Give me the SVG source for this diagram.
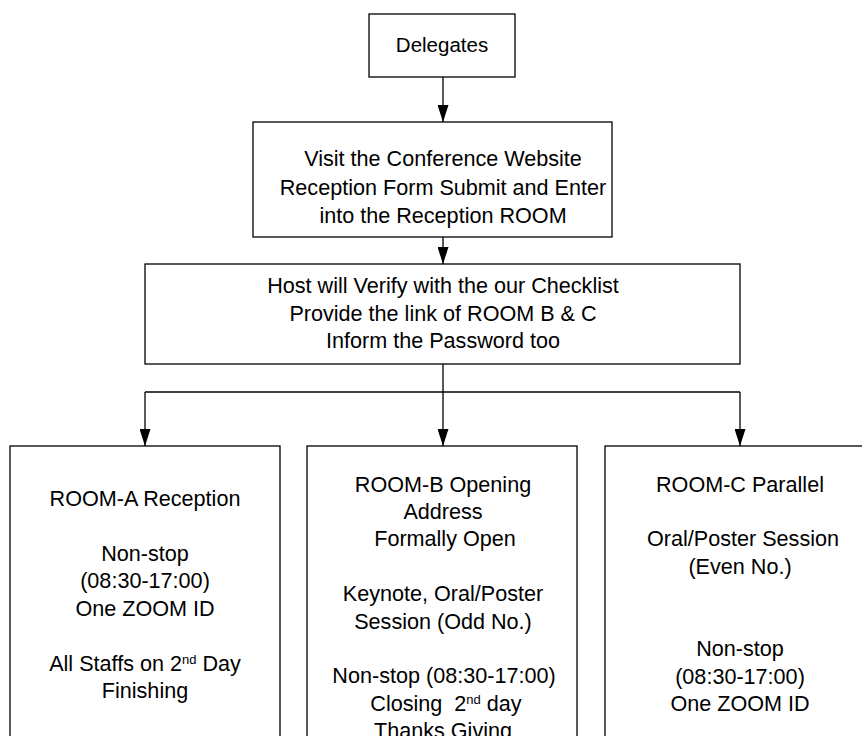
<svg xmlns="http://www.w3.org/2000/svg" width="862" height="736" viewBox="0 0 862 736">
<style>
.box{fill:#fff;stroke:#000;stroke-width:1.3}
.t{font-family:"Liberation Sans",Arial,sans-serif;font-size:21.6px;fill:#000;text-anchor:middle;white-space:pre}
.d{font-size:20.5px}
.c{fill:none;stroke:#000;stroke-width:1.3}
.sup{font-size:13px}
</style>
<defs>
<marker id="arr" viewBox="0 0 17 11" refX="17" refY="5.5" markerWidth="17" markerHeight="11" markerUnits="userSpaceOnUse" orient="auto">
<path d="M0,0 L17,5.5 L0,11 z" fill="#000"/>
</marker>
</defs>
<rect width="862" height="736" fill="#fff"/>
<g id="connectors">
<line class="c" x1="443" y1="77" x2="443" y2="122" marker-end="url(#arr)"/>
<line class="c" x1="443" y1="237" x2="443" y2="264" marker-end="url(#arr)"/>
<polyline class="c" points="443,364 443,392"/>
<polyline class="c" points="145,392 740,392"/>
<line class="c" x1="145" y1="392" x2="145" y2="446" marker-end="url(#arr)"/>
<line class="c" x1="443" y1="392" x2="443" y2="446" marker-end="url(#arr)"/>
<line class="c" x1="740" y1="392" x2="740" y2="446" marker-end="url(#arr)"/>
</g>
<g id="delegates">
<rect class="box" x="369" y="14" width="146" height="63"/>
<text class="t d" x="442" y="52">Delegates</text>
</g>
<g id="visit">
<rect class="box" x="253" y="122" width="359" height="115"/>
<text class="t" x="443" y="166">Visit the Conference Website</text>
<text class="t" x="443" y="194.5">Reception Form Submit and Enter</text>
<text class="t" x="443" y="223">into the Reception ROOM</text>
</g>
<g id="host">
<rect class="box" x="145" y="264" width="595" height="100"/>
<text class="t" x="443" y="292.5">Host will Verify with the our Checklist</text>
<text class="t" x="443" y="320.5">Provide the link of ROOM B &amp; C</text>
<text class="t" x="443" y="348">Inform the Password too</text>
</g>
<g id="roomA">
<rect class="box" x="10" y="446" width="270" height="320"/>
<text class="t" x="145" y="505.5">ROOM-A Reception</text>
<text class="t" x="145" y="560.5">Non-stop</text>
<text class="t" x="145" y="588">(08:30-17:00)</text>
<text class="t" x="145" y="615.5">One ZOOM ID</text>
<text class="t" x="145" y="670.5">All Staffs on 2<tspan class="sup" dy="-7">nd</tspan><tspan dy="7"> Day</tspan></text>
<text class="t" x="145" y="698">Finishing</text>
</g>
<g id="roomB">
<rect class="box" x="307" y="446" width="270" height="320"/>
<text class="t" x="443" y="491.5">ROOM-B Opening</text>
<text class="t" x="443" y="519">Address</text>
<text class="t" x="445" y="546">Formally Open</text>
<text class="t" x="443" y="601">Keynote, Oral/Poster</text>
<text class="t" x="443" y="628.5">Session (Odd No.)</text>
<text class="t" x="444" y="683">Non-stop (08:30-17:00)</text>
<text class="t" x="446" y="710.5">Closing  2<tspan class="sup" dy="-7">nd</tspan><tspan dy="7"> day</tspan></text>
<text class="t" x="443" y="738">Thanks Giving</text>
</g>
<g id="roomC">
<rect class="box" x="605" y="446" width="270" height="320"/>
<text class="t" x="740" y="491.5">ROOM-C Parallel</text>
<text class="t" x="743" y="546">Oral/Poster Session</text>
<text class="t" x="740" y="573.5">(Even No.)</text>
<text class="t" x="740" y="656">Non-stop</text>
<text class="t" x="740" y="683.5">(08:30-17:00)</text>
<text class="t" x="740" y="711">One ZOOM ID</text>
</g>
</svg>
